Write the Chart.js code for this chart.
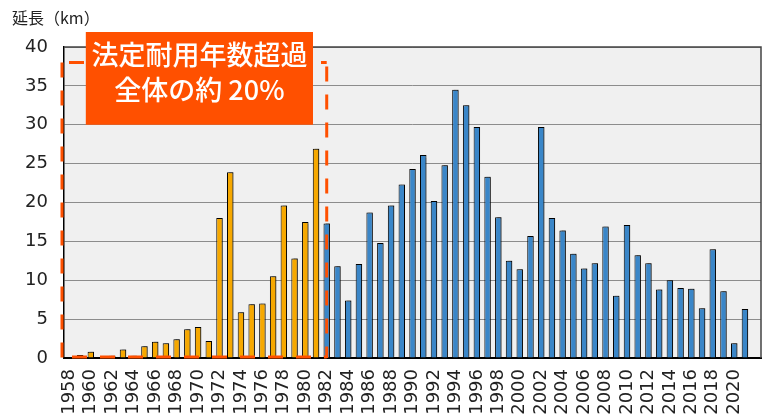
<!DOCTYPE html>
<html>
<head>
<meta charset="utf-8">
<script src="https://cdn.jsdelivr.net/npm/chart.js@4.4.0/dist/chart.umd.min.js"></script>
<style>
    html, body { margin: 0; padding: 0; background: #fff; overflow: hidden; }
    #wrap { width: 762px; height: 419px; }
</style>
</head>
<body>
<div id="wrap"><canvas id="pipeChart" width="762" height="419"></canvas></div>
<script>
// Data
const years = [
    '1958', '1959', '1960', '1961', '1962', '1963', '1964', '1965', '1966', '1967',
    '1968', '1969', '1970', '1971', '1972', '1973', '1974', '1975', '1976', '1977',
    '1978', '1979', '1980', '1981', '1982', '1983', '1984', '1985', '1986', '1987',
    '1988', '1989', '1990', '1991', '1992', '1993', '1994', '1995', '1996', '1997',
    '1998', '1999', '2000', '2001', '2002', '2003', '2004', '2005', '2006', '2007',
    '2008', '2009', '2010', '2011', '2012', '2013', '2014', '2015', '2016', '2017',
    '2018', '2019', '2020', '2021', '2022'
];
const lengths = [
    0, 0.4, 0.8, 0, 0.3, 1.1, 0.3, 1.5, 2.1, 1.9,
    2.4, 3.7, 4.0, 2.2, 18.0, 23.9, 5.9, 6.9, 7.0, 10.5,
    19.6, 12.8, 17.5, 26.9, 17.3, 11.8, 7.4, 12.1, 18.7, 14.8,
    19.6, 22.3, 24.3, 26.1, 20.2, 24.8, 34.5, 32.5, 29.7, 23.3,
    18.1, 12.5, 11.4, 15.7, 29.7, 18.0, 16.4, 13.4, 11.5, 12.2,
    16.9, 8.0, 17.1, 13.2, 12.2, 8.8, 10.0, 9.0, 8.9, 6.4,
    14.0, 8.6, 1.9, 6.3, null
];
const yTicks = [0, 5, 10, 15, 20, 25, 30, 35, 40];
const lastOverYear = '1981';
const boxTopValue = 38;
const yAxisTitle = '延長（km）';
const calloutLines = ['法定耐用年数超過', '全体の約 20%'];

const ORANGE = '#F6A800';
const BLUE = '#3A86C8';
const RED = '#FF5000';

const cutIndex = years.indexOf(lastOverYear);

const frame = {
    id: 'frame',
    beforeDraw(chart) {
        const { ctx, chartArea: a } = chart;
        ctx.save();
        ctx.fillStyle = '#F0F0F0';
        ctx.fillRect(a.left, a.top, a.right - a.left, a.bottom - a.top);
        ctx.restore();
    },
    beforeDatasetsDraw(chart) {
        const ctx = chart.ctx;
        ctx.save();
        ctx.shadowColor = 'rgba(0,0,0,0.35)';
        ctx.shadowOffsetX = 2;
        ctx.shadowOffsetY = -1;
        ctx.shadowBlur = 1;
    },
    afterDatasetsDraw(chart) {
        const { ctx, chartArea: a, scales } = chart;
        ctx.restore();

        // outer frame
        ctx.save();
        ctx.strokeStyle = '#444';
        ctx.lineWidth = 1.5;
        ctx.beginPath();
        ctx.moveTo(a.left, a.top);
        ctx.lineTo(a.right, a.top);
        ctx.lineTo(a.right, a.bottom);
        ctx.stroke();
        ctx.restore();

        // dashed box round the old pipes
        const left = a.left - 2;
        const right = scales.x.getPixelForValue(cutIndex + 1);
        const top = scales.y.getPixelForValue(boxTopValue);
        const bottom = scales.y.getPixelForValue(0);
        ctx.save();
        ctx.strokeStyle = RED;
        ctx.lineWidth = 3;
        ctx.setLineDash([15, 13]);
        const seg = (x1, y1, x2, y2, off) => {
            ctx.lineDashOffset = off;
            ctx.beginPath();
            ctx.moveTo(x1, y1);
            ctx.lineTo(x2, y2);
            ctx.stroke();
        };
        seg(left, top, left, bottom, 0);
        seg(right, top, right, bottom, 24);
        seg(left, top, right, top, 21);
        seg(left, bottom - 1, right, bottom - 1, 18);
        ctx.restore();

        // callout
        const bx = scales.x.getPixelForValue(2) - 5;
        const bw = scales.x.getPixelForValue(cutIndex) - 3 - bx;
        const by = 32;
        const bh = scales.y.getPixelForValue(30) - by;
        ctx.save();
        ctx.fillStyle = RED;
        ctx.fillRect(bx, by, bw, bh);
        ctx.fillStyle = '#fff';
        ctx.font = '500 27px "Noto Sans CJK JP"';
        ctx.textAlign = 'center';
        ctx.textBaseline = 'middle';
        ctx.fillText(calloutLines[0], bx + bw / 2, 55);
        ctx.fillText(calloutLines[1], bx + bw / 2, 90);
        ctx.restore();

        // axis title
        ctx.save();
        ctx.fillStyle = '#222';
        ctx.font = '16px "Noto Sans CJK JP"';
        ctx.textBaseline = 'middle';
        ctx.fillText(yAxisTitle, 12, 18);
        ctx.restore();
    }
};

const ctx = document.getElementById('pipeChart').getContext('2d');
const pipeChart = new Chart(ctx, {
    type: 'bar',
    data: {
        labels: years,
        datasets: [{
            data: lengths,
            backgroundColor: c => c.dataIndex <= cutIndex ? ORANGE : BLUE,
            borderColor: '#000',
            borderWidth: 1,
            borderSkipped: 'bottom',
            categoryPercentage: 1,
            barPercentage: 0.6
        }]
    },
    options: {
        responsive: false,
        animation: false,
        devicePixelRatio: 1,
        layout: { padding: { top: 47, right: 1, left: 0, bottom: 0 } },
        plugins: {
            legend: { display: false },
            tooltip: { enabled: false }
        },
        scales: {
            x: {
                grid: { display: false, drawTicks: false },
                border: { color: '#000', width: 2 },
                ticks: {
                    autoSkip: false,
                    maxRotation: 90,
                    minRotation: 90,
                    padding: 11,
                    color: '#222',
                    font: { family: 'DejaVu Sans', size: 18 },
                    callback: function(value, index) {
                        const label = this.getLabelForValue(value);
                        return index % 2 === 0 && label !== '2022' ? label : '';
                    }
                },
                afterFit: scale => {
                    scale.height = 61;
                    scale.paddingLeft = 0;
                    scale.paddingRight = 0;
                }
            },
            y: {
                min: 0,
                max: 40,
                afterBuildTicks: scale => { scale.ticks = yTicks.map(v => ({ value: v })); },
                grid: { color: '#8c8c8c', lineWidth: 1, drawTicks: false },
                border: { color: '#000', width: 1.5 },
                ticks: {
                    padding: 16,
                    color: '#222',
                    font: { family: 'DejaVu Sans', size: 18 }
                },
                afterFit: scale => {
                    scale.width = 64;
                    scale.paddingTop = 0;
                    scale.paddingBottom = 0;
                }
            }
        }
    },
    plugins: [frame]
});
</script>
</body>
</html>
